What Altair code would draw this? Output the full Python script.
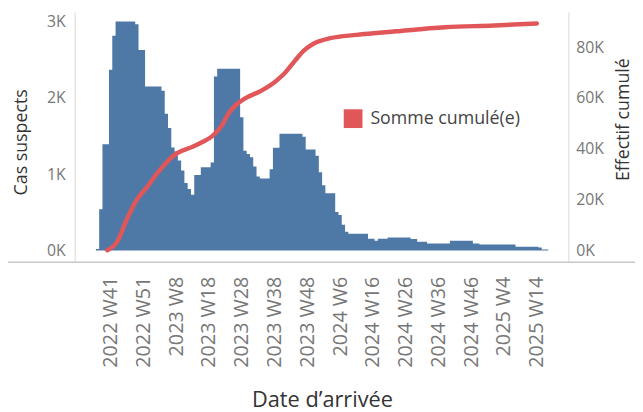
import altair as alt
import pandas as pd

# ---- categories: weekly bins (Tableau-style week numbering) ----
weeks = ([f"2022 W{w}" for w in range(37, 54)] + [f"2023 W{w}" for w in range(1, 53)]
         + [f"2024 W{w}" for w in range(1, 53)] + [f"2025 W{w}" for w in range(1, 18)])

# ---- weekly suspected cases ----
cases = [
    20, 540, 1390, 1390, 2367, 2811,
    3000, 3000, 3000, 3000, 3000, 3000,
    2962, 2626, 2626,
    2147, 2147, 2147, 2147, 2147,
    2092, 1790, 1605, 1349, 1297, 1177, 1048, 884, 806, 730,
    987, 987, 1090, 1090, 1090, 1151, 2277,
    2380, 2380, 2380, 2380, 2380, 2380, 2380,
    1746, 1306, 1263, 1220, 1100, 970,
    944, 944, 944, 1065, 1345, 1345,
    1530, 1530, 1530, 1530, 1530, 1530, 1530,
    1488, 1323, 1323, 1323, 1242, 1026, 854,
    750, 750, 750, 504, 465, 336, 246,
    220, 220, 220, 220, 220, 220,
    155, 155, 129, 155, 155, 155,
    170, 170, 170, 170, 170, 170, 170,
    150, 150, 116, 116, 116,
    90, 90, 90, 90, 90, 90, 90,
    127, 127, 127, 127, 127, 127, 127,
    90, 90,
    78, 78, 78, 78, 78, 78, 78, 78, 78, 78, 78,
    50, 50, 50, 50, 50, 50, 50, 39,
    13, 13,
]

# ---- cumulative line (read at selected weeks) ----
line_week = ["2022 W40", "2022 W43", "2022 W46", "2022 W49", "2022 W52", "2023 W2",
             "2023 W5", "2023 W8", "2023 W13", "2023 W16", "2023 W19", "2023 W22",
             "2023 W24", "2023 W26", "2023 W29", "2023 W34", "2023 W38", "2023 W41",
             "2023 W44", "2023 W47", "2023 W50", "2024 W3", "2024 W11", "2024 W23",
             "2024 W38", "2025 W1", "2025 W14"]
line_cum = [100, 3500, 12500, 20000, 24800, 30000,
            34600, 38100, 40800, 42700, 45000, 49300,
            54000, 57000, 59800, 62900, 66200, 69600,
            74300, 78700, 81400, 83500, 84800, 86200,
            87800, 88500, 89300]

tick_labels = ["2022 W41", "2022 W51", "2023 W8", "2023 W18", "2023 W28", "2023 W38",
               "2023 W48", "2024 W6", "2024 W16", "2024 W26", "2024 W36", "2024 W46",
               "2025 W4", "2025 W14"]

idx = {w: i for i, w in enumerate(weeks)}

# Weekly columns drawn as one stepped shape (left edge of each week, plus the closing edge)
n = len(weeks)
bars_df = pd.DataFrame({
    "edge": [i - 0.5 for i in range(n)] + [n - 0.5],
    "cases": cases + [cases[-1]],
})
line_df = pd.DataFrame({
    "week": line_week,
    "i": [idx[w] for w in line_week],
    "cum": line_cum,
    "series": ["Somme cumulé(e)"] * len(line_week),
})

W, H = 500, 253
FONT = "Open Sans"
LABEL_C = "#777777"
TITLE_C = "#333333"
BLUE = "#4E79A7"

xscale = alt.Scale(domain=[-6.83, 143.77], nice=False, zero=False)
label_arr = "[" + ",".join("'" + w + "'" for w in weeks) + "]"

xaxis = alt.Axis(
    values=[idx[t] for t in tick_labels],
    labelExpr=label_arr + "[datum.value]",
    labelAngle=-90, labelAlign="right", labelBaseline="middle",
    labelFontSize=20, labelColor=LABEL_C, labelFont=FONT, labelPadding=14,
    domain=False, ticks=False, grid=False,
    title="Date d’arrivée", titleFontSize=22, titleColor=TITLE_C, titleFont=FONT,
    titleFontWeight="normal", titleY=139, titleBaseline="middle",
    labelOverlap=False,
)

yleft = alt.Axis(
    values=[0, 1000, 2000, 3000], labelExpr="datum.value/1000 + 'K'",
    labelFontSize=16, labelColor=LABEL_C, labelFont=FONT, labelPadding=10,
    domain=False, ticks=False, grid=False,
    title="Cas suspects", titleFontSize=18, titleColor=TITLE_C, titleFont=FONT,
    titleFontWeight="normal", titleAngle=-90, titleX=-54, titleY=131,
    titleAlign="center", titleBaseline="middle",
)
yright = alt.Axis(
    orient="right",
    values=[0, 20000, 40000, 60000, 80000], labelExpr="datum.value/1000 + 'K'",
    labelFontSize=16, labelColor=LABEL_C, labelFont=FONT, labelPadding=7,
    domain=False, ticks=False, grid=False,
    title="Effectif cumulé", titleFontSize=18, titleColor=TITLE_C, titleFont=FONT,
    titleFontWeight="normal", titleAngle=-90, titleX=55, titleY=108,
    titleAlign="center", titleBaseline="middle",
)

bars = alt.Chart(bars_df).mark_area(color=BLUE, opacity=1, interpolate="step-after").encode(
    x=alt.X("edge:Q", scale=xscale, axis=xaxis),
    y=alt.Y("cases:Q", scale=alt.Scale(domain=[-155, 3116], nice=False, zero=False), axis=yleft),
    y2=alt.datum(0),
)

line = alt.Chart(line_df).mark_line(strokeWidth=4.5, strokeCap="round", interpolate="monotone").encode(
    x=alt.X("i:Q", scale=xscale, axis=xaxis),
    y=alt.Y("cum:Q", scale=alt.Scale(domain=[-4660, 93600], nice=False, zero=False), axis=yright),
    color=alt.Color("series:N", scale=alt.Scale(domain=["Somme cumulé(e)"], range=["#E15759"]),
                    legend=alt.Legend(orient="none", legendX=272, legendY=98, title=None,
                                      symbolType="square", symbolSize=361,
                                      symbolFillColor="#E15759", symbolStrokeWidth=0,
                                      labelFontSize=18, labelColor="#444444", labelFont=FONT,
                                      labelOffset=8, padding=0)),
)

one = pd.DataFrame({"a": [0]})
border_l = alt.Chart(one).mark_rule(color="#D9D9D9", strokeWidth=1).encode(
    x=alt.value(0), y=alt.value(0), y2=alt.value(H))
border_r = alt.Chart(one).mark_rule(color="#D9D9D9", strokeWidth=1).encode(
    x=alt.value(W), y=alt.value(0), y2=alt.value(H))
border_b = alt.Chart(one).mark_rule(color="#C8C8C8", strokeWidth=1.5).encode(
    x=alt.value(-76), x2=alt.value(W + 80), y=alt.value(H))

chart = alt.layer(bars, line, border_l, border_r, border_b).resolve_scale(
    y="independent", color="independent"
).properties(
    width=W, height=H,
    autosize=alt.AutoSizeParams(type="none"),
    padding={"left": 68, "top": 2, "right": 67, "bottom": 149},
).configure_view(stroke=None)

chart.save("out.html", embed_options={"renderer": "svg", "actions": False})
